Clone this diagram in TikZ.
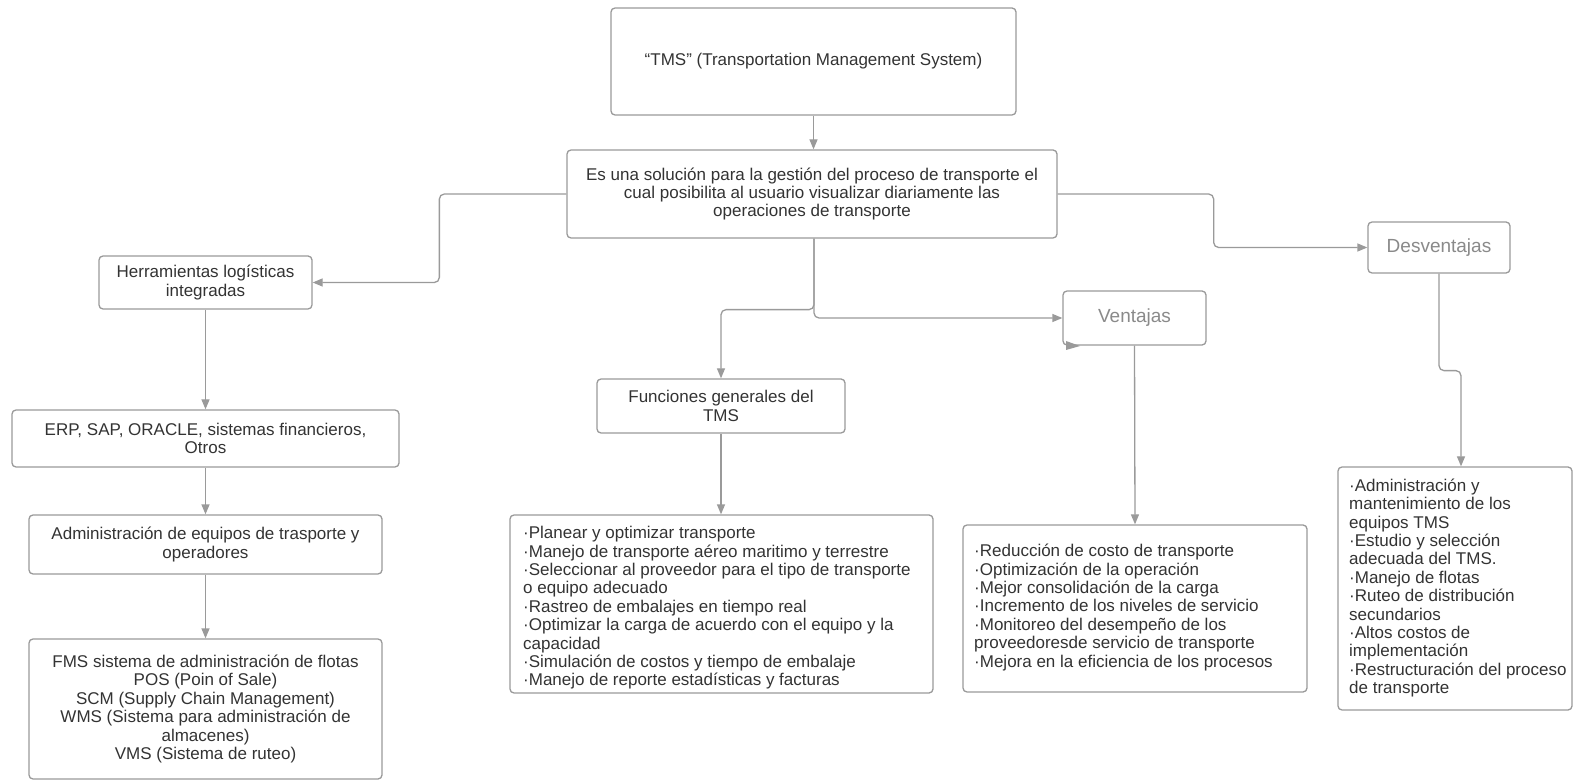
\documentclass[tikz,border=0pt]{standalone}
\usepackage{fontspec}
\setmainfont{Liberation Sans}
\usetikzlibrary{arrows.meta}
\definecolor{edgegray}{HTML}{9A9A9A}
\definecolor{txt}{HTML}{333333}
\definecolor{lighttxt}{HTML}{8A8A8A}
\tikzset{
  box/.style={draw=edgegray, line width=1.3pt, rounded corners=4pt, fill=white, text=txt, align=center, font=\fontsize{17}{18.4}\selectfont, inner sep=0pt},
  listtext/.style={text=txt, align=left, anchor=west, inner sep=0pt, font=\fontsize{17}{18.4}\selectfont},
  bigtxt/.style={text=lighttxt, font=\fontsize{19}{22}\selectfont},
  conn/.style={draw=edgegray, line width=1.3pt, rounded corners=5pt, -{Triangle[length=10pt,width=8pt]}},
}
\begin{document}
\begin{tikzpicture}[x=1pt,y=-1pt]
\useasboundingbox (0,0) rectangle (1575,783);
% top
\node[box, minimum width=405, minimum height=107] (tms) at (813.5,61.5) {“TMS” (Transportation Management System)};
\node[box, minimum width=490, minimum height=88] (es) at (812,194) {Es una solución para la gestión del proceso de transporte el\\cual posibilita al usuario visualizar diariamente las\\operaciones de transporte};
% left column
\node[box, minimum width=213, minimum height=53] (herr) at (205.5,282.5) {Herramientas logísticas\\integradas};
\node[box, minimum width=387, minimum height=57] (erp) at (205.5,438.5) {ERP, SAP, ORACLE, sistemas financieros,\\Otros};
\node[box, minimum width=353, minimum height=59] (adm) at (205.5,544.5) {Administración de equipos de trasporte y\\operadores};
\node[box, minimum width=353, minimum height=140] (fms) at (205.5,709) {FMS sistema de administración de flotas\\POS (Poin of Sale)\\SCM (Supply Chain Management)\\WMS (Sistema para administración de\\almacenes)\\VMS (Sistema de ruteo)};
% middle column
\node[box, minimum width=248, minimum height=54] (fun) at (721,406) {Funciones generales del\\TMS};
\node[box, minimum width=423, minimum height=178] (funlist) at (721.5,604) {};
\node[listtext] (funtext) at (523,608) {·Planear y optimizar transporte\\·Manejo de transporte aéreo maritimo y terrestre\\·Seleccionar al proveedor para el tipo de transporte\\o equipo adecuado\\·Rastreo de embalajes en tiempo real\\·Optimizar la carga de acuerdo con el equipo y la\\capacidad\\·Simulación de costos y tiempo de embalaje\\·Manejo de reporte estadísticas y facturas};
% ventajas
\node[box, bigtxt, minimum width=143, minimum height=54] (ven) at (1134.5,318) {Ventajas};
\node[box, minimum width=344, minimum height=167] (venlist) at (1135,608.5) {};
\node[listtext] (ventext) at (974,607.5) {·Reducción de costo de transporte\\·Optimización de la operación\\·Mejor consolidación de la carga\\·Incremento de los niveles de servicio\\·Monitoreo del desempeño de los\\proveedoresde servicio de transporte\\·Mejora en la eficiencia de los procesos};
% desventajas
\node[box, bigtxt, minimum width=142, minimum height=51] (des) at (1439,247.5) {Desventajas};
\node[box, minimum width=234, minimum height=243] (deslist) at (1455,588.5) {};
\node[listtext] (destext) at (1349,588) {·Administración y\\mantenimiento de los\\equipos TMS\\·Estudio y selección\\adecuada del TMS.\\·Manejo de flotas\\·Ruteo de distribución\\secundarios\\·Altos costos de\\implementación\\·Restructuración del proceso\\de transporte};
% connectors
\draw[conn] (tms.south) -- (tms.south |- es.north);
\draw[conn] (es.west) -- ++(-127,0) |- (herr.east);
\draw[conn] (herr.south) -- (erp.north);
\draw[conn] (erp.south) -- (adm.north);
\draw[conn] (adm.south) -- (fms.north);
\draw[conn] ([xshift=2pt]es.south) -- ++(0,71) -| (fun.north);
\draw[conn] ([xshift=2pt]es.south) |- (ven.west);
\draw[conn] (es.east) -- ++(156,0) |- (des.west);
\draw[conn] (fun.south) -- (fun.south |- funlist.north);
\draw[conn] (ven.south) -- (venlist.north);
\draw[conn] (des.south) -- ++(0,97) -| ([xshift=6pt]deslist.north);
% stray arrowhead at Ventajas corner
\fill[edgegray] (1066,341) -- (1080,346) -- (1066,350) -- cycle;
\end{tikzpicture}
\end{document}
